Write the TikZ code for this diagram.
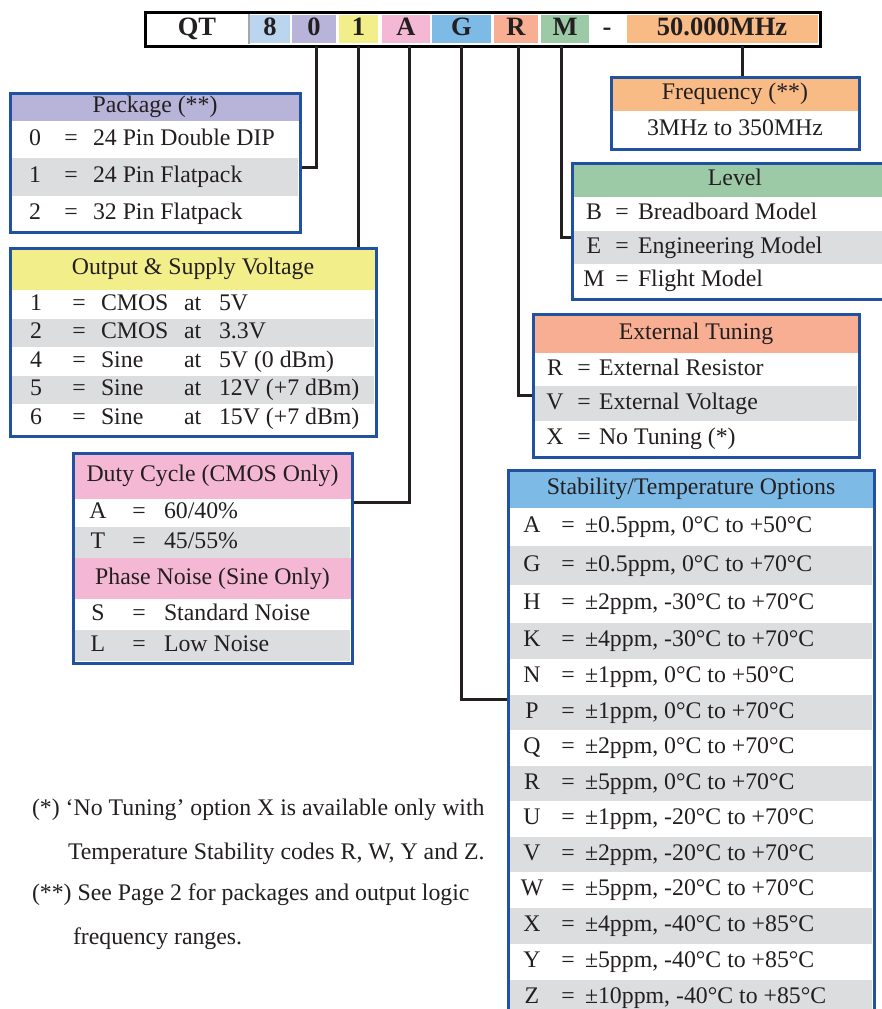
\documentclass[tikz,border=0pt]{standalone}
\usepackage{fontspec}
\setmainfont{Liberation Serif}
\definecolor{bordc}{RGB}{32,82,160}
\definecolor{connc}{RGB}{35,31,32}
\definecolor{txtc}{RGB}{35,31,32}
\definecolor{grayrow}{RGB}{220,221,223}
\definecolor{cpkg}{RGB}{184,180,217}
\definecolor{cout}{RGB}{242,238,138}
\definecolor{cduty}{RGB}{244,184,212}
\definecolor{cfrq}{RGB}{249,187,133}
\definecolor{clvl}{RGB}{156,201,166}
\definecolor{ctun}{RGB}{247,174,146}
\definecolor{cstab}{RGB}{125,187,230}
\definecolor{ceight}{RGB}{188,213,238}
\tikzset{
 every node/.style={inner sep=0pt, outer sep=0pt},
 tx/.style={font=\fontsize{23.8}{28}\selectfont, text=txtc, yshift=-3.5pt},
 tl/.style={tx, anchor=mid},
 tw/.style={tx, anchor=mid west},
 bt/.style={font=\bfseries\fontsize{26.5}{30}\selectfont, text=txtc, anchor=mid, yshift=-3.5pt},
 boxline/.style={draw=bordc, line width=3pt, anchor=north west},
 conn/.style={draw=connc, line width=3pt},
}
\newcommand\trow[7]{%
 \node[tl] (#1l) at (#3,#2) {#6};
 \node[tl] (#1e) at (#4,#2) {=};
 \node[tw] (#1t) at (#5,#2) {#7};}
\newcommand\orow[6]{%
 \node[tl] (#1l) at (36,#2) {#3};
 \node[tl] (#1e) at (79,#2) {=};
 \node[tw] (#1w) at (101,#2) {#4};
 \node[tw] (#1a) at (184,#2) {#5};
 \node[tw] (#1v) at (219,#2) {#6};}
\begin{document}
\begin{tikzpicture}[x=1pt,y=-1pt]
\useasboundingbox[fill=white] (0,0) rectangle (882,1009);
% ---------- top code bar ----------
\fill[ceight] (250,15) rectangle (290,43);
\fill[cpkg] (292,15) rectangle (336,43);
\fill[cout] (339,15) rectangle (378,43);
\fill[cduty] (382,15) rectangle (430,43);
\fill[cstab] (432,15) rectangle (491,43);
\fill[ctun] (494,15) rectangle (538,43);
\fill[clvl] (541,15) rectangle (589,43);
\fill[cfrq] (627,15) rectangle (818,43);
\draw[gray!70, line width=2pt] (249,14) -- (249,44);
\node[draw=black, line width=3pt, anchor=north west, minimum width=675pt, minimum height=34pt] (bar) at (145,12) {};
\node[bt] (bQT) at (197,30) {QT};
\node[bt] (b8) at (270,30) {8};
\node[bt] (b0) at (314,30) {0};
\node[bt] (b1) at (358.5,30) {1};
\node[bt] (bA) at (406,30) {A};
\node[bt] (bG) at (461.5,30) {G};
\node[bt] (bR) at (516,30) {R};
\node[bt] (bM) at (565,30) {M};
\node[bt] (bdash) at (607,30) {-};
\node[bt] (bF) at (722,30) {50.000MHz};
% ---------- box frames (named) ----------
\node[minimum width=290pt, minimum height=139pt, anchor=north west] (pkg) at (10,93) {};
\node[minimum width=366pt, minimum height=188pt, anchor=north west] (out) at (10,248) {};
\node[minimum width=279pt, minimum height=210pt, anchor=north west] (duty) at (73,453) {};
\node[minimum width=248pt, minimum height=72pt, anchor=north west] (frq) at (611,77) {};
\node[minimum width=318pt, minimum height=136pt, anchor=north west] (lvl) at (572,163) {};
\node[minimum width=326pt, minimum height=143pt, anchor=north west] (tun) at (533,314) {};
\node[minimum width=366pt, minimum height=548pt, anchor=north west] (stab) at (508,470) {};
% ---------- connectors ----------
\coordinate (k0) at (316,167);
\coordinate (k1) at (358,100);
\coordinate (kA) at (409,502);
\coordinate (kG) at (461,699);
\coordinate (kR) at (518,395);
\coordinate (kM) at (561,237);
\coordinate (kF) at (742,60);
\draw[conn] (bar.south -| k0) |- (pkg.east |- k0);
\draw[conn] (bar.south -| k1) -- (out.north -| k1);
\draw[conn] (bar.south -| kA) |- (duty.east |- kA);
\draw[conn] (bar.south -| kG) |- (stab.west |- kG);
\draw[conn] (bar.south -| kR) |- (tun.west |- kR);
\draw[conn] (bar.south -| kM) |- (lvl.west |- kM);
\draw[conn] (bar.south -| kF) -- (frq.north -| kF);
% ---------- Package ----------
\fill[cpkg] (10,93) rectangle (300,121);
\fill[grayrow] (10,158) rectangle (298,196);
\node[boxline, minimum width=290pt, minimum height=139pt] (pkgb) at (10,93) {};
\node[tl] (pkgh) at (155,107) {Package (**)};
\trow{pa}{139.5}{35}{71}{93}{0}{24 Pin Double DIP}
\trow{pb}{177}{35}{71}{93}{1}{24 Pin Flatpack}
\trow{pc}{213.5}{35}{71}{93}{2}{32 Pin Flatpack}
% ---------- Output ----------
\fill[cout] (10,248) rectangle (376,290);
\fill[grayrow] (10,319) rectangle (374,347);
\fill[grayrow] (10,376) rectangle (374,404);
\node[boxline, minimum width=366pt, minimum height=188pt] (outb) at (10,248) {};
\node[tl] (outh) at (193,269) {Output \& Supply Voltage};
\orow{oa}{304.5}{1}{CMOS}{at}{5V}
\orow{ob}{333}{2}{CMOS}{at}{3.3V}
\orow{oc}{361.5}{4}{Sine}{at}{5V (0 dBm)}
\orow{od}{390}{5}{Sine}{at}{12V (+7 dBm)}
\orow{oe}{419}{6}{Sine}{at}{15V (+7 dBm)}
% ---------- Duty cycle / phase noise ----------
\fill[cduty] (73,453) rectangle (352,499);
\fill[grayrow] (73,527) rectangle (350,558);
\fill[cduty] (73,558) rectangle (352,599);
\fill[grayrow] (73,630) rectangle (350,661);
\node[boxline, minimum width=279pt, minimum height=210pt] (dutyb) at (73,453) {};
\node[tl] (dutyh) at (212.5,476) {Duty Cycle (CMOS Only)};
\node[tl] (phah) at (212.5,578.5) {Phase Noise (Sine Only)};
\trow{da}{513}{98}{139}{164}{A}{60/40\%}
\trow{db}{542.5}{98}{139}{164}{T}{45/55\%}
\trow{dc}{614.5}{98}{139}{164}{S}{Standard Noise}
\trow{dd}{645.5}{98}{139}{164}{L}{Low Noise}
% ---------- Frequency ----------
\fill[cfrq] (611,77) rectangle (859,111);
\node[boxline, minimum width=248pt, minimum height=72pt] (frqb) at (611,77) {};
\node[tl] (frqh) at (735,94) {Frequency (**)};
\node[tl] (frqr) at (735,129.5) {3MHz to 350MHz};
% ---------- Level ----------
\fill[clvl] (572,163) rectangle (890,197);
\fill[grayrow] (572,231) rectangle (890,264);
\node[boxline, minimum width=318pt, minimum height=136pt] (lvlb) at (572,163) {};
\node[tl] (lvlh) at (735,180) {Level};
\trow{la}{214}{594}{622}{638}{B}{Breadboard Model}
\trow{lb}{247.5}{594}{622}{638}{E}{Engineering Model}
\trow{lc}{281}{594}{622}{638}{M}{Flight Model}
% ---------- External tuning ----------
\fill[ctun] (533,314) rectangle (859,353);
\fill[grayrow] (533,386) rectangle (857,421);
\node[boxline, minimum width=326pt, minimum height=143pt] (tunb) at (533,314) {};
\node[tl] (tunh) at (696,333.5) {External Tuning};
\trow{ta}{369.5}{555}{584}{599}{R}{External Resistor}
\trow{tb}{403.5}{555}{584}{599}{V}{External Voltage}
\trow{tc}{438.5}{555}{584}{599}{X}{No Tuning (*)}
% ---------- Stability ----------
\fill[cstab] (508,470) rectangle (874,508);
\foreach \a/\b in {546/585,623/659,695/730,766/801,837/872,908/944,980/1016}
  \fill[grayrow] (508,\a) rectangle (872,\b);
\node[boxline, minimum width=366pt, minimum height=548pt] (stabb) at (508,470) {};
\node[tl] (stabh) at (691,489) {Stability/Temperature Options};
\trow{sa}{527}{532}{568}{585}{A}{±0.5ppm, 0°C to +50°C}
\trow{sb}{565.5}{532}{568}{585}{G}{±0.5ppm, 0°C to +70°C}
\trow{sc}{604}{532}{568}{585}{H}{±2ppm, -30°C to +70°C}
\trow{sd}{641}{532}{568}{585}{K}{±4ppm, -30°C to +70°C}
\trow{se}{677}{532}{568}{585}{N}{±1ppm, 0°C to +50°C}
\trow{sf}{712.5}{532}{568}{585}{P}{±1ppm, 0°C to +70°C}
\trow{sg}{748}{532}{568}{585}{Q}{±2ppm, 0°C to +70°C}
\trow{sh}{783.5}{532}{568}{585}{R}{±5ppm, 0°C to +70°C}
\trow{si}{819}{532}{568}{585}{U}{±1ppm, -20°C to +70°C}
\trow{sj}{854.5}{532}{568}{585}{V}{±2ppm, -20°C to +70°C}
\trow{sk}{890}{532}{568}{585}{W}{±5ppm, -20°C to +70°C}
\trow{sl}{926}{532}{568}{585}{X}{±4ppm, -40°C to +85°C}
\trow{sm}{962}{532}{568}{585}{Y}{±5ppm, -40°C to +85°C}
\trow{sn}{998}{532}{568}{585}{Z}{±10ppm, -40°C to +85°C}
% ---------- footnotes ----------
\node[tw] (fn1) at (32,810) {(*) ‘No Tuning’ option X is available only with};
\node[tw] (fn2) at (68,854) {Temperature Stability codes R, W, Y and Z.};
\node[tw] (fn3) at (32,895) {(**) See Page 2 for packages and output logic};
\node[tw] (fn4) at (73,939) {frequency ranges.};
\end{tikzpicture}
\end{document}
